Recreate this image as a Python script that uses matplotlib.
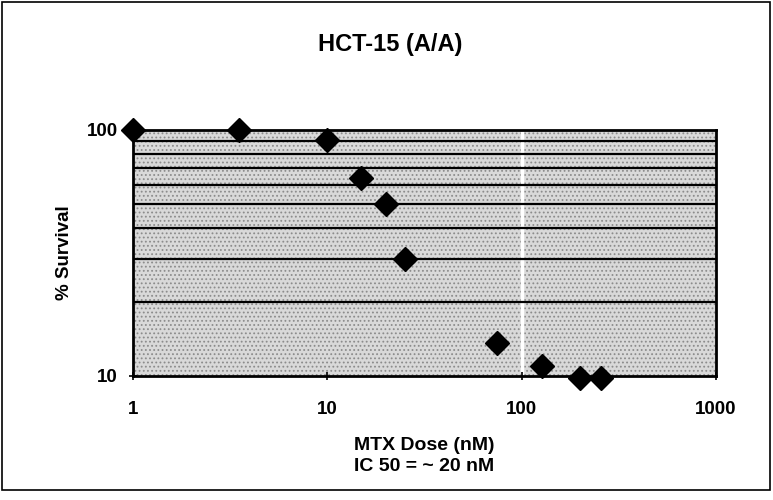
import matplotlib
matplotlib.use("Agg")
import matplotlib.pyplot as plt
from matplotlib.patches import Rectangle

plt.rcParams['font.family'] = ['Liberation Sans', 'DejaVu Sans']
plt.rcParams['font.weight'] = 'bold'
plt.rcParams['hatch.linewidth'] = 0.8

# data
dose = [1, 3.5, 10, 15, 20, 25, 75, 127, 200, 255]
survival = [100, 100, 91, 64, 50, 30, 13.6, 11, 9.8, 9.8]

grid_levels = [20, 30, 40, 50, 60, 70, 80, 90]
x_ticks = [1, 10, 100, 1000]
x_tick_labels = ['1', '10', '100', '1000']
y_ticks = [10, 100]
y_tick_labels = ['10', '100']

fig = plt.figure(figsize=(7.73, 5), dpi=100)
fig.patches.append(Rectangle((0.002, 0.02), 0.994, 0.976, transform=fig.transFigure,
                             fill=False, edgecolor='black', linewidth=1.2))

ax = fig.add_axes([0.172, 0.248, 0.754, 0.492])
ax.set_facecolor('#d9d9d9')
ax.set_xscale('log')
ax.set_yscale('log')
ax.set_xlim(1, 1000)
ax.set_ylim(10, 100)

# stippled plot-area fill
ax.add_patch(Rectangle((0, 0), 1, 1, transform=ax.transAxes, facecolor='none',
                       edgecolor='#8c8c8c', linewidth=0, hatch='....', zorder=0.2))
ax.axvline(100, color='white', linewidth=2.5, zorder=0.5)
for lvl in grid_levels:
    ax.axhline(lvl, color='black', linewidth=1.6, zorder=1)

ax.plot(dose, survival, linestyle='none', marker='D', markersize=12.5,
        color='black', clip_on=False, zorder=3)

ax.set_xticks(x_ticks)
ax.set_xticklabels(x_tick_labels)
ax.set_yticks(y_ticks)
ax.set_yticklabels(y_tick_labels)
ax.minorticks_off()
ax.tick_params(axis='both', labelsize=13.5, direction='inout', length=6, width=1.2)
ax.tick_params(axis='x', pad=15)
ax.tick_params(axis='y', pad=8)
for s in ax.spines.values():
    s.set_linewidth(2)

fig.text(0.505, 0.91, 'HCT-15 (A/A)', fontsize=17, fontweight='bold',
         ha='center', va='center')
ax.set_xlabel('MTX Dose (nM)\nIC 50 = ~ 20 nM', fontsize=14, fontweight='bold',
              labelpad=14, linespacing=1.3)
ax.set_ylabel('% Survival', fontsize=13.5, fontweight='bold', labelpad=10)

fig.savefig('out.png', dpi=100)
